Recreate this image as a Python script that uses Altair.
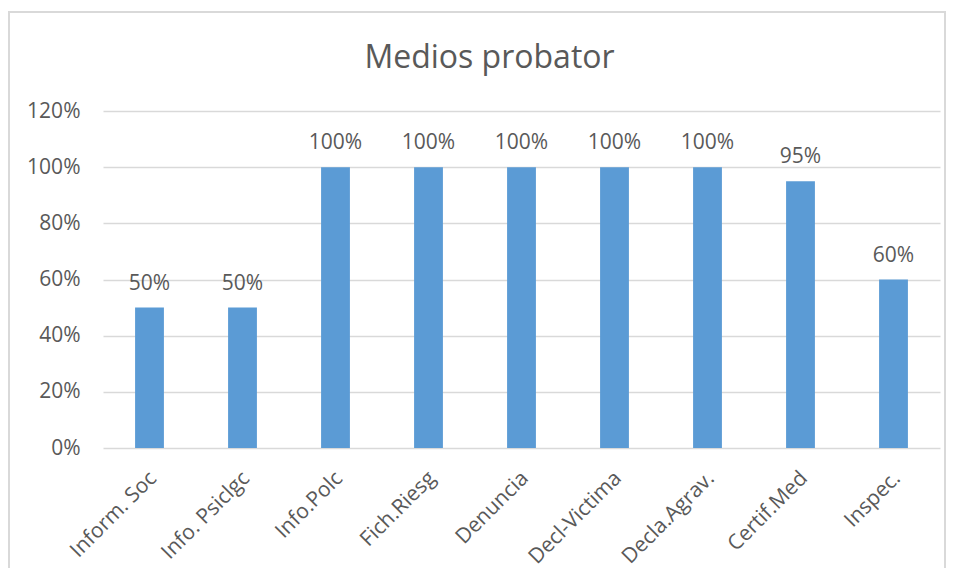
import altair as alt
import pandas as pd

categories = ["Inform. Soc", "Info. Psiclgc", "Info.Polc", "Fich.Riesg", "Denuncia",
              "Decl-Victima", "Decla.Agrav.", "Certif.Med", "Inspec."]
values = [0.50, 0.50, 1.00, 1.00, 1.00, 1.00, 1.00, 0.95, 0.60]
y_ticks = [0, 0.2, 0.4, 0.6, 0.8, 1.0, 1.2]

df = pd.DataFrame({"cat": categories, "val": values})

FONT = "Open Sans"
TXT = "#595959"
GRID = "#D9D9D9"
W, H = 837, 337
FS = 21

x_enc = alt.X("cat:N", sort=categories, title=None,
              scale=alt.Scale(paddingInner=0.69, paddingOuter=0.345),
              axis=alt.Axis(labelAngle=-45, labelFontSize=FS, labelFont=FONT, labelColor=TXT,
                            labelPadding=19, labelOffset=-4, ticks=False, domain=False,
                            grid=False))
y_enc = alt.Y("val:Q", title=None,
              scale=alt.Scale(domain=[0, 1.2], nice=False),
              axis=alt.Axis(values=y_ticks, format=".0%", labelFontSize=FS, labelFont=FONT,
                            labelColor=TXT, labelPadding=23, ticks=False, domain=False,
                            gridColor=GRID, gridWidth=1.5))

border = alt.Chart(df).mark_rect(fill=None, stroke=GRID, strokeWidth=1.5).encode(
    x=alt.value(-94), x2=alt.value(W + 5), y=alt.value(-99), y2=alt.value(H + 200)
)

bars = alt.Chart(df).mark_bar(color="#5B9BD5").encode(x=x_enc, y=y_enc)
labels = alt.Chart(df).mark_text(dy=-18, baseline="alphabetic", fontSize=FS, font=FONT,
                                 color=TXT).encode(
    x=alt.X("cat:N", sort=categories),
    y="val:Q",
    text=alt.Text("val:Q", format=".0%"),
)

chart = alt.layer(border, bars, labels).properties(
    width=W, height=H,
    title=alt.TitleParams("Medios probator", fontSize=32, font=FONT, color=TXT,
                          fontWeight="normal", anchor="middle", dx=-32, offset=-64),
    autosize=alt.AutoSizeParams(type="none"),
    padding={"left": 95, "top": 103, "right": 7, "bottom": 120},
).configure_view(stroke=None)

chart.save("out.html", embed_options={"renderer": "svg", "actions": False})
